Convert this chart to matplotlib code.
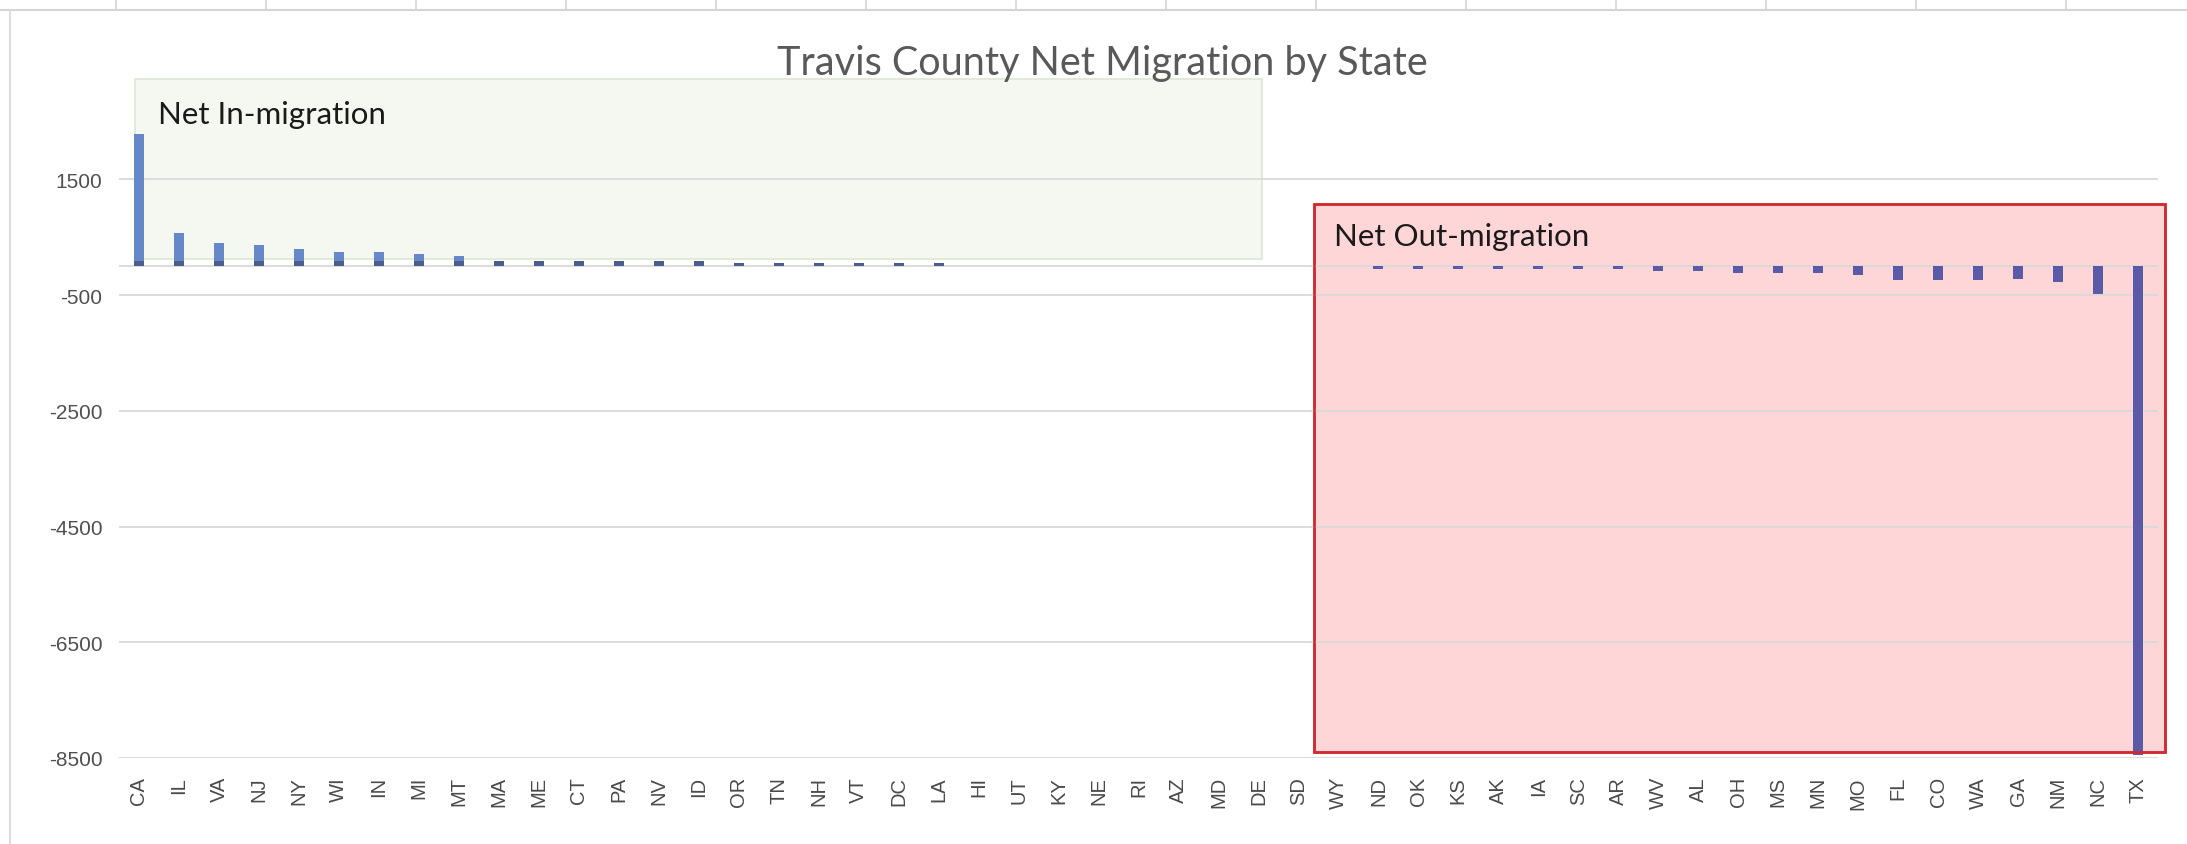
import matplotlib.pyplot as plt
import matplotlib.patches as mpatches
from matplotlib.lines import Line2D

# states in chart order
states = ['CA', 'IL', 'VA', 'NJ', 'NY', 'WI', 'IN', 'MI', 'MT', 'MA', 'ME', 'CT', 'PA',
          'NV', 'ID', 'OR', 'TN', 'NH', 'VT', 'DC', 'LA', 'HI', 'UT', 'KY', 'NE', 'RI',
          'AZ', 'MD', 'DE', 'SD', 'WY', 'ND', 'OK', 'KS', 'AK', 'IA', 'SC', 'AR', 'WV',
          'AL', 'OH', 'MS', 'MN', 'MO', 'FL', 'CO', 'WA', 'GA', 'NM', 'NC', 'TX']

# light series (net in-migration)
net_in = [2280, 570, 410, 370, 290, 250, 250, 210, 175] + [0] * 42

# dark series (drawn in front)
net_dark = ([90] * 15 + [50] * 6 + [0] * 10 +
            [-40, -40, -40, -40, -40, -40, -40,
             -85, -80, -120, -120, -110, -160, -235, -235, -235, -225, -270, -480, -8450])

yticks = [-8500, -6500, -4500, -2500, -500, 1500]

W, H = 2187, 845
fig = plt.figure(figsize=(W / 100, H / 100), dpi=100)
fig.patch.set_facecolor('white')

# spreadsheet bits around the chart
fig.add_artist(Line2D([0, 1], [1 - 11 / H, 1 - 11 / H], color='#D4D4D4', lw=1.5))
fig.add_artist(Line2D([10 / W, 10 / W], [0, 1 - 11 / H], color='#DDDDDD', lw=1.5))
for k in range(14):
    xx = (116 + 150 * k) / W
    fig.add_artist(Line2D([xx, xx], [1 - 11 / H, 1], color='#D4D4D4', lw=1.2))

ax = fig.add_axes([119 / W, 86 / H, (2158 - 119) / W, (759 - 85) / H])
x = list(range(len(states)))

ax.bar(x, net_in, width=0.25, color='#6688C8', zorder=2)
dark_cols = ['#5A5AA6' if v < 0 else '#4A5E8E' for v in net_dark]
ax.bar(x, net_dark, width=0.25, color=dark_cols, zorder=3)

ax.set_xlim(-0.5, len(states) - 0.5)
ax.set_ylim(-8500, 3150)
ax.set_yticks(yticks)
ax.set_yticklabels([str(t) for t in yticks])
ax.set_xticks(x)
ax.set_xticklabels(states, rotation=90)
ax.tick_params(axis='both', length=0, colors='#595959')
ax.tick_params(axis='x', labelsize=14.5, labelcolor='#4A4A4A', pad=13)
ax.tick_params(axis='y', labelsize=15, labelcolor='#505050', pad=12)
for lab in ax.get_xticklabels() + ax.get_yticklabels():
    lab.set_fontfamily('Liberation Sans')
for s in ax.spines.values():
    s.set_visible(False)
ax.set_axisbelow(True)
ax.grid(axis='y', color='#D9D9D9', lw=1.3)
ax.axhline(0, color='#D9D9D9', lw=1.3, zorder=1)

# annotation boxes
green = mpatches.Rectangle((-0.11, 120), 28.2, 3110, facecolor='#F4F8F0',
                           edgecolor='#DDE8D3', lw=1.2, zorder=0.4, clip_on=False)
ax.add_patch(green)
red = mpatches.Rectangle((29.38, -8400), 21.3, 9480, facecolor='#FFD6D8',
                         edgecolor='#D02A30', lw=1.8, zorder=0.4, clip_on=False)
ax.add_patch(red)
red_edge = mpatches.Rectangle((29.38, -8400), 21.3, 9480, facecolor='none',
                              edgecolor='#D02A30', lw=1.8, zorder=5, clip_on=False)
ax.add_patch(red_edge)

ax.text(0.47, 2640, 'Net In-migration', fontsize=22.5, family='Lato', color='#1A1A1A',
        va='center', ha='left')
ax.text(29.9, 520, 'Net Out-migration', fontsize=22.5, family='Lato', color='#1A1A1A',
        va='center', ha='left')

fig.text(1102 / W, 1 - 63 / H, 'Travis County Net Migration by State', fontsize=28.5,
         family='Lato', color='#595959', ha='center', va='center')

fig.savefig('out.png', dpi=100)
